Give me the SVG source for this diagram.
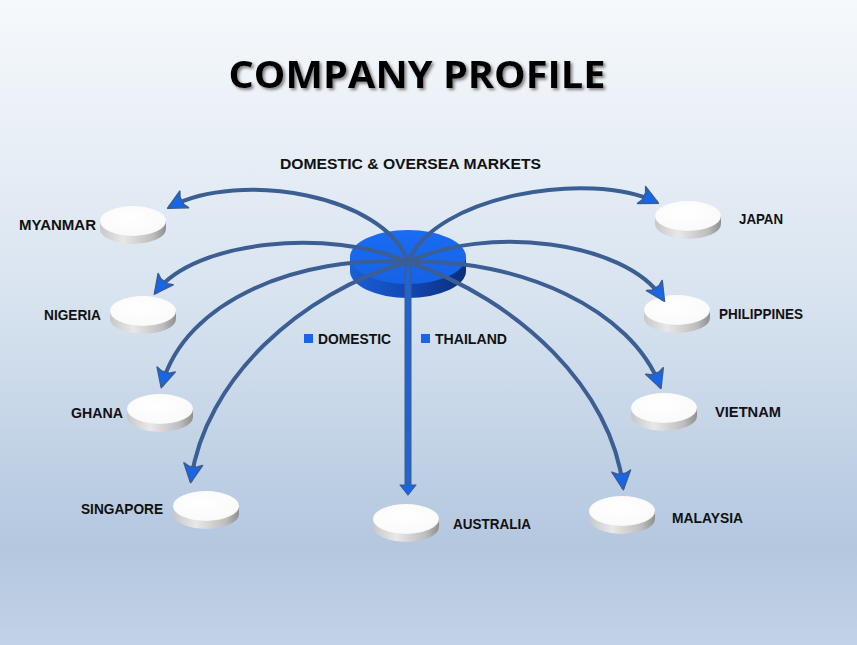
<svg xmlns="http://www.w3.org/2000/svg" width="857" height="645" viewBox="0 0 857 645">
<defs>
<linearGradient id="bg" x1="0" y1="0" x2="0" y2="1">
<stop offset="0" stop-color="#f6f9fc"/>
<stop offset="0.45" stop-color="#d9e4f0"/>
<stop offset="0.85" stop-color="#b3c7df"/>
<stop offset="1" stop-color="#c3d3e7"/>
</linearGradient>
<linearGradient id="wside" x1="0" y1="0" x2="1" y2="0">
<stop offset="0" stop-color="#c8c8c8"/>
<stop offset="0.35" stop-color="#e8e8e8"/>
<stop offset="0.8" stop-color="#bdbdbd"/>
<stop offset="1" stop-color="#8f8f8f"/>
</linearGradient>
<radialGradient id="wtop" cx="0.45" cy="0.4" r="0.7">
<stop offset="0" stop-color="#ffffff"/>
<stop offset="0.8" stop-color="#fafafa"/>
<stop offset="1" stop-color="#ececec"/>
</radialGradient>
<linearGradient id="bside" x1="0" y1="0" x2="1" y2="0">
<stop offset="0" stop-color="#1a5fd6"/>
<stop offset="0.5" stop-color="#1248b4"/>
<stop offset="1" stop-color="#0a2e7a"/>
</linearGradient>
<linearGradient id="btop" x1="0" y1="0" x2="0" y2="1">
<stop offset="0" stop-color="#1a6cf2"/>
<stop offset="1" stop-color="#1662e6"/>
</linearGradient>
<g id="disk">
<path d="M-33,0 L-33,8 A33,15 0 0 0 33,8 L33,0 Z" fill="url(#wside)"/>
<ellipse cx="0" cy="0" rx="33" ry="15" fill="url(#wtop)"/>
</g>
<marker id="ah" markerUnits="userSpaceOnUse" markerWidth="24" markerHeight="24" viewBox="-14 -9 18 18" refX="0" refY="0" orient="auto">
<path d="M-10,-3 L-12,-7 L2,0 L-12,7 L-10,3 Z" fill="#1766ea" stroke="#3a5d92" stroke-width="1.2" stroke-linejoin="round"/>
</marker>
<filter id="sh" x="-5%" y="-20%" width="110%" height="150%">
<feDropShadow dx="2" dy="2" stdDeviation="1.5" flood-color="#666" flood-opacity="0.8"/>
</filter>
<style>
.lbl{font-family:"Liberation Sans",Arial,sans-serif;font-weight:bold;font-size:15px;fill:#111}
.arr{fill:none;stroke:#3b5e93;stroke-width:4;stroke-linecap:round;marker-end:url(#ah)}
</style>
</defs>
<rect x="0" y="0" width="857" height="645" fill="url(#bg)"/>

<g id="title">
<text x="417" y="88" font-family="'Open Sans','Liberation Sans',sans-serif" font-weight="bold" font-size="38" fill="#000" text-anchor="middle" textLength="377" lengthAdjust="spacingAndGlyphs" filter="url(#sh)">COMPANY PROFILE</text>
</g>
<text class="lbl" x="280" y="169" textLength="261" lengthAdjust="spacingAndGlyphs">DOMESTIC &amp; OVERSEA MARKETS</text>

<g id="center">
<path d="M350,257 L350,271 A58,27 0 0 0 466,271 L466,257 Z" fill="url(#bside)"/>
<ellipse cx="408" cy="257" rx="58" ry="27" fill="url(#btop)"/>
</g>

<g id="n-myanmar"><use href="#disk" x="133" y="221"/><text class="lbl" x="19" y="230" textLength="77" lengthAdjust="spacingAndGlyphs">MYANMAR</text></g>
<g id="n-japan"><use href="#disk" x="688" y="216"/><text class="lbl" x="739" y="224" textLength="44" lengthAdjust="spacingAndGlyphs">JAPAN</text></g>
<g id="n-nigeria"><use href="#disk" x="143" y="311"/><text class="lbl" x="44" y="320" textLength="57" lengthAdjust="spacingAndGlyphs">NIGERIA</text></g>
<g id="n-philippines"><use href="#disk" x="677" y="310"/><text class="lbl" x="719" y="319" textLength="84" lengthAdjust="spacingAndGlyphs">PHILIPPINES</text></g>
<g id="n-ghana"><use href="#disk" x="160" y="409"/><text class="lbl" x="71" y="418" textLength="52" lengthAdjust="spacingAndGlyphs">GHANA</text></g>
<g id="n-vietnam"><use href="#disk" x="664" y="408"/><text class="lbl" x="715" y="417" textLength="66" lengthAdjust="spacingAndGlyphs">VIETNAM</text></g>
<g id="n-singapore"><use href="#disk" x="206" y="506"/><text class="lbl" x="81" y="514" textLength="82" lengthAdjust="spacingAndGlyphs">SINGAPORE</text></g>
<g id="n-australia"><use href="#disk" x="406" y="519"/><text class="lbl" x="453" y="529" textLength="78" lengthAdjust="spacingAndGlyphs">AUSTRALIA</text></g>
<g id="n-malaysia"><use href="#disk" x="622" y="511"/><text class="lbl" x="672" y="523" textLength="71" lengthAdjust="spacingAndGlyphs">MALAYSIA</text></g>

<g id="connectors">
<path class="arr" d="M408,262 C385,195 240,170 170,207"/>
<path class="arr" d="M408,262 C435,195 590,170 656,202"/>
<path class="arr" d="M408,262 C330,228 195,240 156,292"/>
<path class="arr" d="M408,262 C485,225 625,240 663,299"/>
<path class="arr" d="M408,262 C300,255 185,300 162,385"/>
<path class="arr" d="M408,262 C520,258 632,310 660,386"/>
<path class="arr" d="M408,262 C300,292 205,380 191,480"/>
<path class="arr" d="M408,262 C520,300 612,390 623,487"/>
<path d="M408,265 L408,485" stroke="#3b5e93" stroke-width="7" fill="none"/>
<path d="M408,267 L408,486" stroke="#1766ea" stroke-width="3" fill="none"/>
<path d="M400,485 L416,485 L408,495 Z" fill="#1766ea" stroke="#3b5e93" stroke-width="1.2" stroke-linejoin="round"/>
</g>

<g id="legend">
<rect x="304" y="334" width="9" height="9" fill="#1766ea"/>
<text class="lbl" x="318" y="344" textLength="73" lengthAdjust="spacingAndGlyphs">DOMESTIC</text>
<rect x="421" y="334" width="9" height="9" fill="#1766ea"/>
<text class="lbl" x="435" y="344" textLength="72" lengthAdjust="spacingAndGlyphs">THAILAND</text>
</g>
</svg>
